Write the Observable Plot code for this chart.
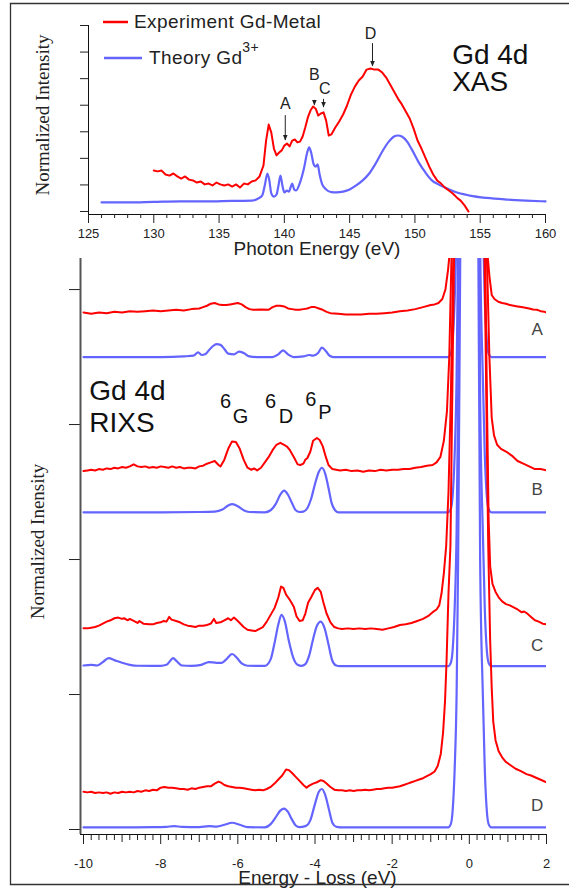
<!DOCTYPE html>
<html><head><meta charset="utf-8">
<script src="https://cdn.jsdelivr.net/npm/d3@7"></script>
<script src="https://cdn.jsdelivr.net/npm/@observablehq/plot@0.6"></script>
<style>
html,body{margin:0;padding:0;background:#fff;overflow:hidden}
#wrap{position:relative;width:569px;height:889px;overflow:hidden;background:#fff}
#wrap svg{position:absolute;left:0;top:0}
</style></head><body><div id="wrap"></div>
<script>
// ---------- XAS (top panel) data: [photon energy eV, normalized intensity] ----------
const xasExp = [[130.0,1.54],[130.3,1.51],[130.6,1.54],[130.9,1.39],[131.2,1.35],[131.5,1.43],[131.8,1.32],[132.1,1.24],[132.4,1.32],[132.7,1.20],[133.0,1.17],[133.3,1.09],[133.6,1.13],[133.9,1.02],[134.2,1.05],[134.5,0.98],[134.8,1.09],[135.1,1.02],[135.4,0.98],[135.7,1.02],[136.0,0.94],[136.3,1.02],[136.6,0.90],[136.9,1.05],[137.2,1.02],[137.5,1.13],[137.8,1.17],[138.1,1.32],[138.4,1.73],[138.6,2.67],[138.8,3.27],[139.0,2.97],[139.2,2.37],[139.4,2.11],[139.6,2.22],[139.8,2.30],[140.0,2.48],[140.2,2.56],[140.4,2.45],[140.6,2.67],[140.8,2.71],[141.0,2.60],[141.2,2.63],[141.4,2.82],[141.6,3.16],[141.8,3.54],[142.0,3.80],[142.2,3.95],[142.4,3.87],[142.6,3.61],[142.8,3.69],[143.0,3.73],[143.2,3.42],[143.4,2.86],[143.6,2.90],[143.9,3.16],[144.2,3.39],[144.5,3.65],[144.8,3.99],[145.1,4.40],[145.4,4.70],[145.7,4.93],[146.0,5.08],[146.3,5.34],[146.6,5.38],[146.9,5.34],[147.2,5.34],[147.5,5.23],[147.8,5.04],[148.1,4.78],[148.4,4.52],[148.7,4.25],[149.0,4.03],[149.3,3.76],[149.6,3.50],[149.9,3.12],[150.2,2.67],[150.5,2.37],[150.8,2.03],[151.1,1.69],[151.4,1.39],[151.7,1.17],[152.0,1.05],[152.3,0.90],[152.6,0.79],[152.9,0.68],[153.2,0.53],[153.5,0.41],[153.8,0.23],[154.1,0.0]];
const xasTheory = [[126.0,0.34],[128.0,0.34],[130.0,0.36],[132.0,0.38],[134.0,0.38],[136.0,0.40],[137.5,0.41],[138.0,0.49],[138.3,0.60],[138.5,0.98],[138.7,1.43],[138.85,1.17],[139.0,0.68],[139.2,0.56],[139.4,0.64],[139.55,0.98],[139.7,1.35],[139.85,0.98],[140.0,0.72],[140.2,0.79],[140.35,0.75],[140.5,0.94],[140.6,1.05],[140.75,0.83],[140.9,0.79],[141.2,1.09],[141.5,1.62],[141.75,2.22],[141.9,2.41],[142.05,2.22],[142.25,1.77],[142.4,1.69],[142.55,1.77],[142.7,1.39],[142.9,1.02],[143.2,0.83],[143.6,0.73],[144.0,0.72],[144.5,0.75],[145.0,0.83],[145.5,0.98],[146.0,1.17],[146.5,1.43],[147.0,1.81],[147.5,2.26],[148.0,2.63],[148.4,2.82],[148.7,2.86],[149.0,2.82],[149.4,2.63],[149.8,2.30],[150.3,1.84],[150.8,1.47],[151.3,1.17],[151.8,1.02],[152.3,0.90],[153.0,0.75],[154.2,0.60],[155.5,0.51],[157.0,0.45],[158.5,0.41],[160.0,0.38]];
const xasMajorTicks = [125,130,135,140,145,150,155,160];
const xasMinorTicks = [126,127,128,129,131,132,133,134,136,137,138,139,141,142,143,144,146,147,148,149,151,152,153,154,156,157,158,159];
const xasYTicks = [0,1,2,3,4,5,6,7];
const xasPeakLabels = ["A","B","C","D"];
const xasPeakE = [140.07,142.3,143.1,146.6];
const xasPeakLabelU = [4.06,5.16,4.63,6.70];
const xasArrowE = [140.07,142.3,143.0,146.75];
const xasArrowFrom = [3.61,4.18,4.22,6.32];
const xasArrowTo = [2.67,3.99,3.91,5.46];
const xasTitleLines = ["Gd 4d","XAS"];
const xasTitleU = [5.87,4.86];

// ---------- RIXS (bottom panel) data: [energy loss eV, offset intensity] ----------
const rixsA_exp = [[-10,3.83],[-9.8,3.82],[-9.6,3.83],[-9.4,3.825],[-9.2,3.835],[-9.0,3.83],[-8.8,3.84],[-8.6,3.835],[-8.4,3.84],[-8.2,3.845],[-8.0,3.84],[-7.8,3.845],[-7.6,3.85],[-7.4,3.845],[-7.2,3.855],[-7.0,3.86],[-6.9,3.87],[-6.8,3.88],[-6.7,3.895],[-6.6,3.90],[-6.5,3.89],[-6.4,3.885],[-6.3,3.885],[-6.2,3.89],[-6.1,3.895],[-6.0,3.90],[-5.9,3.89],[-5.8,3.87],[-5.7,3.855],[-5.6,3.85],[-5.4,3.852],[-5.2,3.85],[-5.1,3.87],[-5.0,3.88],[-4.9,3.88],[-4.8,3.875],[-4.7,3.86],[-4.6,3.855],[-4.5,3.85],[-4.4,3.85],[-4.3,3.855],[-4.2,3.86],[-4.1,3.87],[-4.0,3.87],[-3.9,3.86],[-3.8,3.85],[-3.7,3.835],[-3.6,3.825],[-3.4,3.82],[-3.2,3.815],[-3.0,3.815],[-2.8,3.815],[-2.6,3.82],[-2.4,3.82],[-2.2,3.825],[-2.0,3.83],[-1.8,3.84],[-1.6,3.845],[-1.4,3.855],[-1.2,3.87],[-1.0,3.885],[-0.9,3.89],[-0.8,3.90],[-0.7,3.93],[-0.62,4.0],[-0.55,4.15],[-0.5,4.3],[-0.42,4.8],[0,9],[0.38,4.8],[0.46,4.3],[0.52,4.1],[0.58,3.96],[0.65,3.93],[0.75,3.91],[0.85,3.90],[0.95,3.895],[1.05,3.885],[1.15,3.88],[1.25,3.875],[1.35,3.87],[1.45,3.865],[1.55,3.86],[1.65,3.852],[1.75,3.85],[1.85,3.84],[1.95,3.835],[2.0,3.83]];
const rixsA_theory = [[-10,3.50],[-9,3.50],[-8,3.50],[-7.4,3.505],[-7.15,3.51],[-7.03,3.535],[-6.93,3.515],[-6.85,3.52],[-6.75,3.55],[-6.65,3.58],[-6.55,3.595],[-6.45,3.59],[-6.35,3.56],[-6.25,3.525],[-6.1,3.52],[-5.97,3.54],[-5.85,3.53],[-5.7,3.505],[-5.5,3.50],[-5.1,3.50],[-4.95,3.52],[-4.83,3.55],[-4.7,3.52],[-4.55,3.50],[-4.3,3.505],[-4.15,3.515],[-4.05,3.51],[-3.92,3.53],[-3.82,3.57],[-3.72,3.545],[-3.62,3.51],[-3.5,3.50],[-0.55,3.50],[-0.48,3.525],[-0.43,3.63],[-0.38,3.93],[-0.33,4.5],[-0.29,5.5],[-0.23,8],[0,17],[0.23,8],[0.28,5.5],[0.35,4.5],[0.40,3.93],[0.45,3.63],[0.5,3.525],[0.57,3.50],[2,3.50]];
const rixsB_exp = [[-10,2.655],[-9.9,2.66],[-9.8,2.665],[-9.7,2.66],[-9.6,2.67],[-9.5,2.665],[-9.4,2.675],[-9.3,2.67],[-9.2,2.68],[-9.1,2.675],[-9.0,2.685],[-8.9,2.68],[-8.8,2.69],[-8.7,2.705],[-8.6,2.69],[-8.5,2.685],[-8.4,2.69],[-8.3,2.68],[-8.2,2.685],[-8.1,2.68],[-8.0,2.69],[-7.9,2.685],[-7.8,2.68],[-7.7,2.69],[-7.6,2.68],[-7.5,2.685],[-7.4,2.675],[-7.3,2.68],[-7.2,2.68],[-7.1,2.675],[-7.0,2.69],[-6.9,2.695],[-6.8,2.71],[-6.7,2.72],[-6.6,2.73],[-6.5,2.70],[-6.45,2.69],[-6.35,2.74],[-6.25,2.82],[-6.15,2.875],[-6.05,2.87],[-5.95,2.82],[-5.85,2.74],[-5.75,2.68],[-5.65,2.665],[-5.58,2.675],[-5.5,2.66],[-5.4,2.68],[-5.3,2.72],[-5.2,2.76],[-5.1,2.81],[-5.0,2.85],[-4.9,2.865],[-4.8,2.85],[-4.72,2.835],[-4.65,2.81],[-4.55,2.76],[-4.45,2.705],[-4.38,2.70],[-4.3,2.71],[-4.25,2.74],[-4.2,2.75],[-4.12,2.80],[-4.05,2.88],[-3.95,2.90],[-3.88,2.885],[-3.8,2.84],[-3.72,2.76],[-3.65,2.70],[-3.55,2.67],[-3.45,2.665],[-3.35,2.66],[-3.2,2.665],[-3.05,2.655],[-2.9,2.66],[-2.75,2.65],[-2.6,2.66],[-2.45,2.655],[-2.3,2.665],[-2.15,2.66],[-2.0,2.665],[-1.85,2.665],[-1.7,2.67],[-1.55,2.67],[-1.4,2.68],[-1.25,2.685],[-1.1,2.695],[-0.95,2.70],[-0.85,2.72],[-0.75,2.76],[-0.66,2.88],[-0.58,3.1],[-0.52,3.5],[-0.45,4.4],[0,10],[0.45,4.3],[0.52,3.5],[0.58,3.05],[0.64,2.92],[0.72,2.85],[0.82,2.82],[0.95,2.80],[1.1,2.77],[1.25,2.73],[1.4,2.71],[1.55,2.69],[1.7,2.67],[1.85,2.67],[2.0,2.66]];
const rixsB_theory = [[-10,2.35],[-8,2.35],[-7,2.352],[-6.6,2.355],[-6.4,2.37],[-6.25,2.40],[-6.14,2.41],[-6.0,2.395],[-5.85,2.365],[-5.7,2.352],[-5.3,2.35],[-5.15,2.365],[-5.02,2.41],[-4.9,2.48],[-4.8,2.51],[-4.7,2.48],[-4.6,2.42],[-4.5,2.365],[-4.4,2.352],[-4.3,2.355],[-4.2,2.38],[-4.1,2.45],[-4.0,2.56],[-3.9,2.65],[-3.82,2.68],[-3.74,2.64],[-3.65,2.53],[-3.57,2.42],[-3.48,2.365],[-3.4,2.35],[-0.55,2.35],[-0.48,2.375],[-0.43,2.48],[-0.38,2.78],[-0.33,3.35],[-0.29,4.35],[-0.23,6.8],[0,16],[0.23,6.8],[0.28,4.35],[0.35,3.35],[0.40,2.78],[0.45,2.48],[0.5,2.375],[0.57,2.35],[2,2.35]];
const rixsC_exp = [[-10,1.49],[-9.9,1.49],[-9.8,1.495],[-9.7,1.50],[-9.6,1.51],[-9.5,1.525],[-9.4,1.54],[-9.3,1.55],[-9.2,1.565],[-9.1,1.57],[-9.0,1.56],[-8.95,1.565],[-8.85,1.55],[-8.8,1.56],[-8.7,1.545],[-8.6,1.53],[-8.55,1.545],[-8.45,1.525],[-8.3,1.52],[-8.2,1.52],[-8.1,1.53],[-8.0,1.535],[-7.92,1.545],[-7.85,1.54],[-7.78,1.575],[-7.72,1.555],[-7.6,1.545],[-7.5,1.535],[-7.4,1.52],[-7.3,1.51],[-7.2,1.505],[-7.1,1.50],[-7.0,1.51],[-6.9,1.51],[-6.8,1.515],[-6.7,1.525],[-6.62,1.56],[-6.56,1.53],[-6.45,1.535],[-6.35,1.55],[-6.25,1.565],[-6.18,1.55],[-6.1,1.57],[-6.02,1.55],[-5.95,1.53],[-5.85,1.50],[-5.75,1.48],[-5.65,1.475],[-5.55,1.47],[-5.45,1.485],[-5.35,1.50],[-5.25,1.54],[-5.15,1.59],[-5.05,1.64],[-4.95,1.72],[-4.88,1.80],[-4.82,1.79],[-4.75,1.74],[-4.65,1.70],[-4.55,1.65],[-4.48,1.58],[-4.4,1.545],[-4.32,1.55],[-4.25,1.60],[-4.18,1.68],[-4.1,1.72],[-4.0,1.775],[-3.93,1.79],[-3.85,1.76],[-3.78,1.68],[-3.7,1.60],[-3.6,1.535],[-3.5,1.50],[-3.4,1.49],[-3.3,1.485],[-3.15,1.49],[-3.0,1.485],[-2.85,1.49],[-2.7,1.485],[-2.55,1.49],[-2.4,1.485],[-2.25,1.48],[-2.1,1.49],[-1.95,1.50],[-1.8,1.515],[-1.65,1.52],[-1.5,1.53],[-1.35,1.545],[-1.2,1.56],[-1.05,1.585],[-0.95,1.61],[-0.85,1.63],[-0.78,1.66],[-0.72,1.75],[-0.66,1.9],[-0.6,2.1],[-0.54,2.5],[-0.48,3.2],[-0.4,4.5],[0,10],[0.4,4.5],[0.46,3.1],[0.5,2.3],[0.54,1.95],[0.6,1.82],[0.68,1.76],[0.76,1.72],[0.85,1.69],[0.95,1.67],[1.05,1.66],[1.15,1.645],[1.25,1.63],[1.35,1.61],[1.42,1.615],[1.5,1.60],[1.6,1.575],[1.7,1.55],[1.8,1.54],[1.9,1.525],[2.0,1.52]];
const rixsC_theory = [[-10,1.215],[-9.8,1.22],[-9.65,1.215],[-9.5,1.24],[-9.35,1.27],[-9.2,1.255],[-9.0,1.235],[-8.8,1.22],[-8.6,1.213],[-8.0,1.212],[-7.85,1.22],[-7.75,1.25],[-7.68,1.27],[-7.58,1.245],[-7.45,1.215],[-7.2,1.212],[-6.95,1.22],[-6.75,1.24],[-6.55,1.235],[-6.42,1.235],[-6.3,1.26],[-6.15,1.30],[-6.02,1.27],[-5.9,1.23],[-5.75,1.213],[-5.3,1.212],[-5.15,1.26],[-5.05,1.38],[-4.95,1.52],[-4.87,1.59],[-4.78,1.54],[-4.68,1.40],[-4.56,1.27],[-4.45,1.22],[-4.35,1.212],[-4.25,1.225],[-4.15,1.29],[-4.05,1.41],[-3.95,1.51],[-3.85,1.54],[-3.75,1.49],[-3.65,1.37],[-3.55,1.25],[-3.45,1.215],[-3.35,1.21],[-0.55,1.21],[-0.48,1.235],[-0.43,1.34],[-0.38,1.64],[-0.33,2.2],[-0.29,3.2],[-0.23,5.7],[0,15],[0.23,5.7],[0.28,3.2],[0.35,2.2],[0.40,1.64],[0.45,1.34],[0.5,1.235],[0.57,1.21],[2,1.21]];
const rixsD_exp = [[-10,0.28],[-9.9,0.275],[-9.8,0.28],[-9.7,0.27],[-9.6,0.275],[-9.5,0.27],[-9.4,0.275],[-9.3,0.265],[-9.2,0.275],[-9.1,0.27],[-9.0,0.28],[-8.9,0.275],[-8.8,0.28],[-8.7,0.275],[-8.6,0.285],[-8.5,0.28],[-8.4,0.29],[-8.3,0.285],[-8.2,0.295],[-8.1,0.29],[-8.0,0.31],[-7.9,0.315],[-7.8,0.31],[-7.7,0.31],[-7.6,0.305],[-7.5,0.30],[-7.4,0.30],[-7.3,0.295],[-7.2,0.305],[-7.1,0.30],[-7.0,0.31],[-6.9,0.315],[-6.8,0.32],[-6.7,0.32],[-6.6,0.34],[-6.5,0.355],[-6.42,0.345],[-6.35,0.33],[-6.25,0.32],[-6.15,0.315],[-6.05,0.31],[-5.95,0.31],[-5.85,0.305],[-5.75,0.30],[-5.65,0.295],[-5.55,0.29],[-5.45,0.295],[-5.35,0.29],[-5.25,0.30],[-5.15,0.315],[-5.05,0.34],[-4.95,0.37],[-4.85,0.40],[-4.75,0.445],[-4.68,0.44],[-4.6,0.42],[-4.5,0.39],[-4.4,0.36],[-4.3,0.33],[-4.22,0.31],[-4.15,0.325],[-4.05,0.34],[-3.95,0.35],[-3.85,0.365],[-3.78,0.36],[-3.7,0.34],[-3.6,0.315],[-3.5,0.295],[-3.4,0.29],[-3.3,0.29],[-3.2,0.285],[-3.1,0.29],[-3.0,0.285],[-2.9,0.29],[-2.8,0.29],[-2.7,0.295],[-2.6,0.29],[-2.5,0.295],[-2.4,0.30],[-2.3,0.30],[-2.2,0.305],[-2.1,0.31],[-2.0,0.31],[-1.9,0.315],[-1.8,0.32],[-1.7,0.33],[-1.6,0.34],[-1.5,0.35],[-1.4,0.36],[-1.3,0.37],[-1.2,0.38],[-1.1,0.395],[-1.0,0.41],[-0.9,0.43],[-0.82,0.47],[-0.74,0.56],[-0.68,0.72],[-0.63,0.95],[-0.59,1.25],[-0.54,1.75],[-0.49,2.1],[-0.43,3.5],[-0.36,5.0],[0,10],[0.36,5.0],[0.44,3.2],[0.49,2.1],[0.54,1.4],[0.58,1.05],[0.62,0.8],[0.68,0.66],[0.76,0.58],[0.85,0.535],[0.95,0.50],[1.05,0.48],[1.2,0.45],[1.35,0.43],[1.48,0.41],[1.6,0.40],[1.76,0.38],[1.88,0.365],[2.0,0.35]];
const rixsD_theory = [[-10,0.016],[-9,0.016],[-8.2,0.017],[-7.85,0.02],[-7.65,0.025],[-7.45,0.02],[-7.0,0.018],[-6.75,0.025],[-6.55,0.022],[-6.35,0.035],[-6.15,0.05],[-5.95,0.035],[-5.75,0.018],[-5.3,0.016],[-5.15,0.04],[-5.02,0.09],[-4.9,0.14],[-4.8,0.155],[-4.7,0.13],[-4.6,0.075],[-4.5,0.03],[-4.4,0.017],[-4.25,0.025],[-4.12,0.07],[-4.0,0.19],[-3.9,0.28],[-3.82,0.30],[-3.74,0.26],[-3.64,0.15],[-3.55,0.05],[-3.45,0.02],[-3.35,0.016],[-0.55,0.016],[-0.48,0.04],[-0.43,0.15],[-0.38,0.45],[-0.33,1.0],[-0.29,2.0],[-0.23,4.5],[0,14],[0.23,4.5],[0.28,2.0],[0.35,1.0],[0.40,0.45],[0.45,0.15],[0.5,0.04],[0.57,0.016],[2,0.016]];
const rixsMajorTicks = [-10,-8,-6,-4,-2,0,2];
const rixsMidTicks = [-9,-7,-5,-3,-1,1];
const rixsMinorTicks = [-9.8,-9.6,-9.4,-9.2,-8.8,-8.6,-8.4,-8.2,-7.8,-7.6,-7.4,-7.2,-6.8,-6.6,-6.4,-6.2,-5.8,-5.6,-5.4,-5.2,-4.8,-4.6,-4.4,-4.2,-3.8,-3.6,-3.4,-3.2,-2.8,-2.6,-2.4,-2.2,-1.8,-1.6,-1.4,-1.2,-0.8,-0.6,-0.4,-0.2,0.2,0.4,0.6,0.8,1.2,1.4,1.6,1.8];
const rixsYTicks = [0,1,2,3,4];
const rixsTraceNames = ["A","B","C","D"];
const rixsTraceNameV = [3.70,2.52,1.36,0.18];
const rixsTitleLines = ["Gd 4d","RIXS"];
const rixsTitleV = [3.25,3.01];
const termSuperscripts = ["6","6","6"];
const termLetters = ["G","D","P"];
const termSupE = [-6.32,-5.15,-4.11];
const termSupV = [3.17,3.17,3.185];
const termLetterE = [-5.93,-4.75,-3.74];
const termLetterV = [3.06,3.06,3.09];

// ---------- styling ----------
const RED = "#ff0000";
const BLUE = "#6464ff";
const SANS = "'Liberation Sans', Arial, Helvetica, sans-serif";
const SERIF = "'Liberation Serif', 'Times New Roman', serif";
const pt = d => d;
const downTriangle = {draw(ctx, size) {ctx.moveTo(-2.3,-5.5); ctx.lineTo(2.3,-5.5); ctx.lineTo(0,0); ctx.closePath();}};

const xasArrows = xasArrowE.map((e,i) => ({e, from: xasArrowFrom[i], to: xasArrowTo[i]}));
const xasLabels = xasPeakLabels.map((t,i) => ({t, e: xasPeakE[i], u: xasPeakLabelU[i]}));
const xasTitle = xasTitleLines.map((t,i) => ({t, u: xasTitleU[i]}));

const topPlot = Plot.plot({
  width: 569, height: 258,
  marginLeft: 88, marginRight: 24, marginTop: 25, marginBottom: 44,
  x: {domain: [125, 160]},
  y: {domain: [-0.113, 7]},
  style: {fontFamily: SANS, fontSize: "13px", background: "transparent", color: "#222", overflow: "visible"},
  marks: [
    Plot.ruleX([125], {stroke: "#111"}),
    Plot.ruleY([-0.113], {stroke: "#111"}),
    Plot.axisX(xasMinorTicks, {tickSize: 4, tickFormat: () => "", label: null}),
    Plot.axisX(xasMajorTicks, {tickSize: 9, tickPadding: 5, tickFormat: d => String(d), label: null, fontSize: 13}),
    Plot.axisY(xasYTicks, {tickSize: 8, tickFormat: () => "", label: null}),
    Plot.line(xasTheory, {x: d => d[0], y: d => d[1], stroke: BLUE, strokeWidth: 2.2, curve: "monotone-x"}),
    Plot.line(xasExp, {x: d => d[0], y: d => d[1], stroke: RED, strokeWidth: 2}),
    Plot.ruleX(xasArrows, {x: "e", y1: "from", y2: "to", stroke: "#222", strokeWidth: 1}),
    Plot.dot(xasArrows, {x: "e", y: "to", symbol: downTriangle, fill: "#222", stroke: null, r: 3}),
    Plot.text(xasLabels, {x: "e", y: "u", text: "t", fontSize: 16, fill: "#222"}),
    Plot.text(xasTitle, {x: 152.85, y: "u", text: "t", fontSize: 28, textAnchor: "start", fill: "#111"}),
    Plot.text(["Photon Energy (eV)"], {text: pt, frameAnchor: "bottom", lineAnchor: "middle", textAnchor: "middle", dy: 34, fontSize: 19, fill: "#222"}),
    Plot.text(["Normalized Intensity"], {text: pt, frameAnchor: "left", textAnchor: "middle", lineAnchor: "middle", dx: -46, dy: -5, rotate: -90, fontSize: 19, fontFamily: SERIF, fill: "#222"})
  ]
});

const line = (data, color, w, curve) => Plot.line(data, {x: d => d[0], y: d => d[1], stroke: color, strokeWidth: w, curve, clip: true});
const rixsNames = rixsTraceNames.map((t,i) => ({t, v: rixsTraceNameV[i]}));
const rixsTitle = rixsTitleLines.map((t,i) => ({t, v: rixsTitleV[i]}));
const terms6 = termSuperscripts.map((t,i) => ({t, e: termSupE[i], v: termSupV[i]}));
const termsL = termLetters.map((t,i) => ({t, e: termLetterE[i], v: termLetterV[i]}));

const bottomPlot = Plot.plot({
  width: 569, height: 631,
  marginLeft: 80, marginRight: 23, marginTop: 0, marginBottom: 55,
  x: {domain: [-10.078, 2]},
  y: {domain: [-0.037, 4.23]},
  style: {fontFamily: SANS, fontSize: "13px", background: "transparent", color: "#222", overflow: "visible"},
  marks: [
    Plot.axisX(rixsMinorTicks, {tickSize: 6, tickFormat: () => "", label: null}),
    Plot.axisX(rixsMidTicks, {tickSize: 8, tickFormat: () => "", label: null}),
    Plot.axisX(rixsMajorTicks, {tickSize: 10, tickPadding: 14, tickFormat: d => String(d), label: null, fontSize: 13}),
    Plot.axisY(rixsYTicks, {tickSize: 11, tickFormat: () => "", label: null}),
    line(rixsA_theory, BLUE, 2.2, "monotone-x"),
    line(rixsB_theory, BLUE, 2.2, "monotone-x"),
    line(rixsC_theory, BLUE, 2.2, "monotone-x"),
    line(rixsD_theory, BLUE, 2.2, "monotone-x"),
    line(rixsA_exp, RED, 2, "linear"),
    line(rixsB_exp, RED, 2, "linear"),
    line(rixsC_exp, RED, 2, "linear"),
    line(rixsD_exp, RED, 2, "linear"),
    Plot.ruleX([-10.078], {stroke: "#555", strokeWidth: 2}),
    Plot.ruleY([-0.037], {stroke: "#111"}),
    Plot.text(rixsNames, {x: 1.76, y: "v", text: "t", fontSize: 17, fill: "#444"}),
    Plot.text(rixsTitle, {x: -9.85, y: "v", text: "t", fontSize: 28, textAnchor: "start", fill: "#111"}),
    Plot.text(terms6, {x: "e", y: "v", text: "t", fontSize: 20, fill: "#111"}),
    Plot.text(termsL, {x: "e", y: "v", text: "t", fontSize: 20, fill: "#111"}),
    Plot.text(["Energy - Loss (eV)"], {text: pt, frameAnchor: "bottom", lineAnchor: "middle", textAnchor: "middle", dx: 4, dy: 43, fontSize: 19, fill: "#222"}),
    Plot.text(["Normalized Inensity"], {text: pt, frameAnchor: "left", textAnchor: "middle", lineAnchor: "middle", dx: -43, dy: -5, rotate: -90, fontSize: 19, fontFamily: SERIF, fill: "#222"})
  ]
});

const wrap = document.getElementById("wrap");
wrap.appendChild(topPlot);
bottomPlot.style.top = "258px";
wrap.appendChild(bottomPlot);

// legend + figure border (overlay)
const ns = "http://www.w3.org/2000/svg";
const ov = document.createElementNS(ns, "svg");
ov.setAttribute("width", 569); ov.setAttribute("height", 889);
ov.style.pointerEvents = "none";
ov.innerHTML = `
  <path d="M569,3.5 H10.5 V884.5 H569" fill="none" stroke="#333" stroke-width="1.3"/>
  <line x1="103" x2="128" y1="22" y2="22" stroke="${RED}" stroke-width="2.5"/>
  <text x="134" y="28" font-family="${SANS.replace(/'/g,'')}" font-size="19" letter-spacing="0.4" fill="#222">Experiment Gd-Metal</text>
  <line x1="104" x2="142" y1="58" y2="58" stroke="${BLUE}" stroke-width="2.5"/>
  <text x="149" y="64" font-family="${SANS.replace(/'/g,'')}" font-size="19" letter-spacing="0.4" fill="#222">Theory Gd<tspan dy="-12" font-size="14">3+</tspan></text>`;
wrap.appendChild(ov);
</script></body></html>
